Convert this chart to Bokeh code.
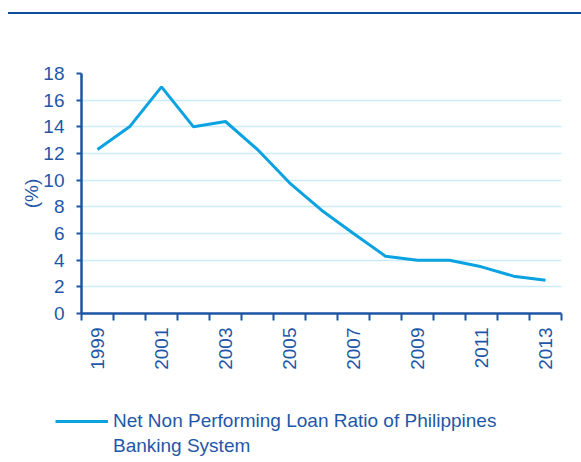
import math
from bokeh.plotting import figure
from bokeh.models import (FixedTicker, Legend, LegendItem, Div, Range1d)
from bokeh.layouts import column
from bokeh.embed import file_html
from bokeh.resources import INLINE

years = [1999, 2000, 2001, 2002, 2003, 2004, 2005, 2006, 2007, 2008, 2009, 2010, 2011, 2012, 2013]
npl_ratio = [12.3, 14.0, 17.0, 14.0, 14.4, 12.3, 9.8, 7.75, 6.0, 4.3, 4.0, 4.0, 3.5, 2.8, 2.5]
label_years = [1999, 2001, 2003, 2005, 2007, 2009, 2011, 2013]
y_ticks = [0, 2, 4, 6, 8, 10, 12, 14, 16, 18]
series_name_lines = ["Net Non Performing Loan Ratio of Philippines", "Banking System"]
y_title = "(%)"

FONT = "Liberation Sans"
FS = "19px"
TEXT_COLOR = "#1F57A8"
AXIS_COLOR = "#1A55A6"
LINE_COLOR = "#0AA2E0"
GRID_COLOR = "#C9ECFA"
RULE_COLOR = "#0D4E9B"

rule = Div(text="", width=573, height=2,
           styles={"background-color": RULE_COLOR},
           margin=(12, 0, 0, 8))

p = figure(width=581, height=386, output_backend="svg", toolbar_location=None,
           x_range=Range1d(years[0] - 0.5, years[-1] + 0.5),
           y_range=Range1d(0, 18),
           min_border_left=81, min_border_right=20,
           min_border_top=59, min_border_bottom=87)
p.outline_line_color = None
p.background_fill_color = "white"
p.border_fill_color = "white"

r = p.line(years, npl_ratio, line_color=LINE_COLOR, line_width=3)

# x axis: labels every other year, ticks at category boundaries
xa = p.xaxis[0]
xa.ticker = FixedTicker(ticks=label_years,
                        minor_ticks=[y - 0.5 for y in years] + [years[-1] + 0.5])
xa.major_label_overrides = {y: str(y) for y in label_years}
xa.major_tick_out = 0
xa.major_tick_in = 0
xa.minor_tick_out = 7
xa.minor_tick_in = 0
xa.minor_tick_line_color = AXIS_COLOR
xa.minor_tick_line_width = 2
xa.axis_line_color = AXIS_COLOR
xa.axis_line_width = 2.5
xa.major_label_orientation = math.pi / 2
xa.major_label_standoff = 7
xa.major_label_text_font = FONT
xa.major_label_text_font_size = FS
xa.major_label_text_color = TEXT_COLOR

ya = p.yaxis[0]
ya.ticker = FixedTicker(ticks=y_ticks)
ya.major_tick_out = 5
ya.major_tick_in = 0
ya.minor_tick_out = 0
ya.minor_tick_in = 0
ya.major_tick_line_color = AXIS_COLOR
ya.major_tick_line_width = 2
ya.axis_line_color = AXIS_COLOR
ya.axis_line_width = 2.5
ya.major_label_standoff = 12
ya.major_label_text_font = FONT
ya.major_label_text_font_size = FS
ya.major_label_text_color = TEXT_COLOR
ya.axis_label = y_title
ya.axis_label_standoff = -2
ya.axis_label_text_font = FONT
ya.axis_label_text_font_size = FS
ya.axis_label_text_font_style = "normal"
ya.axis_label_text_color = TEXT_COLOR

p.xgrid.grid_line_color = None
p.ygrid.grid_line_color = GRID_COLOR
p.ygrid.grid_line_width = 1.5

# legend strip below the chart (its own frame covers the whole strip;
# the series is drawn there outside the visible range, only the legend shows)
lp = figure(width=581, height=62, output_backend="svg", toolbar_location=None,
            x_axis_location=None, y_axis_location=None,
            x_range=Range1d(0, 1), y_range=Range1d(0, 1),
            min_border_left=0, min_border_right=0,
            min_border_top=0, min_border_bottom=0)
if "frame_align" in lp.properties():
    lp.frame_align = False
lp.outline_line_color = None
lp.grid.grid_line_color = None
lp.border_fill_color = "white"
lr1 = lp.line(years, npl_ratio, line_color=LINE_COLOR, line_width=3)
lr2 = lp.line(years, npl_ratio, line_color=LINE_COLOR, line_width=3, line_alpha=0)
legend = Legend(items=[LegendItem(label=series_name_lines[0], renderers=[lr1]),
                       LegendItem(label=series_name_lines[1], renderers=[lr2])],
                location=(55, 5), border_line_color=None,
                background_fill_alpha=0, glyph_width=53, glyph_height=22,
                label_text_font=FONT, label_text_font_size=FS,
                label_text_color=TEXT_COLOR, label_standoff=5,
                label_height=22, spacing=3,
                padding=0, margin=0)
lp.add_layout(legend)

layout = column(rule, p, lp, spacing=0)
open("out.html", "w").write(file_html(layout, INLINE))
